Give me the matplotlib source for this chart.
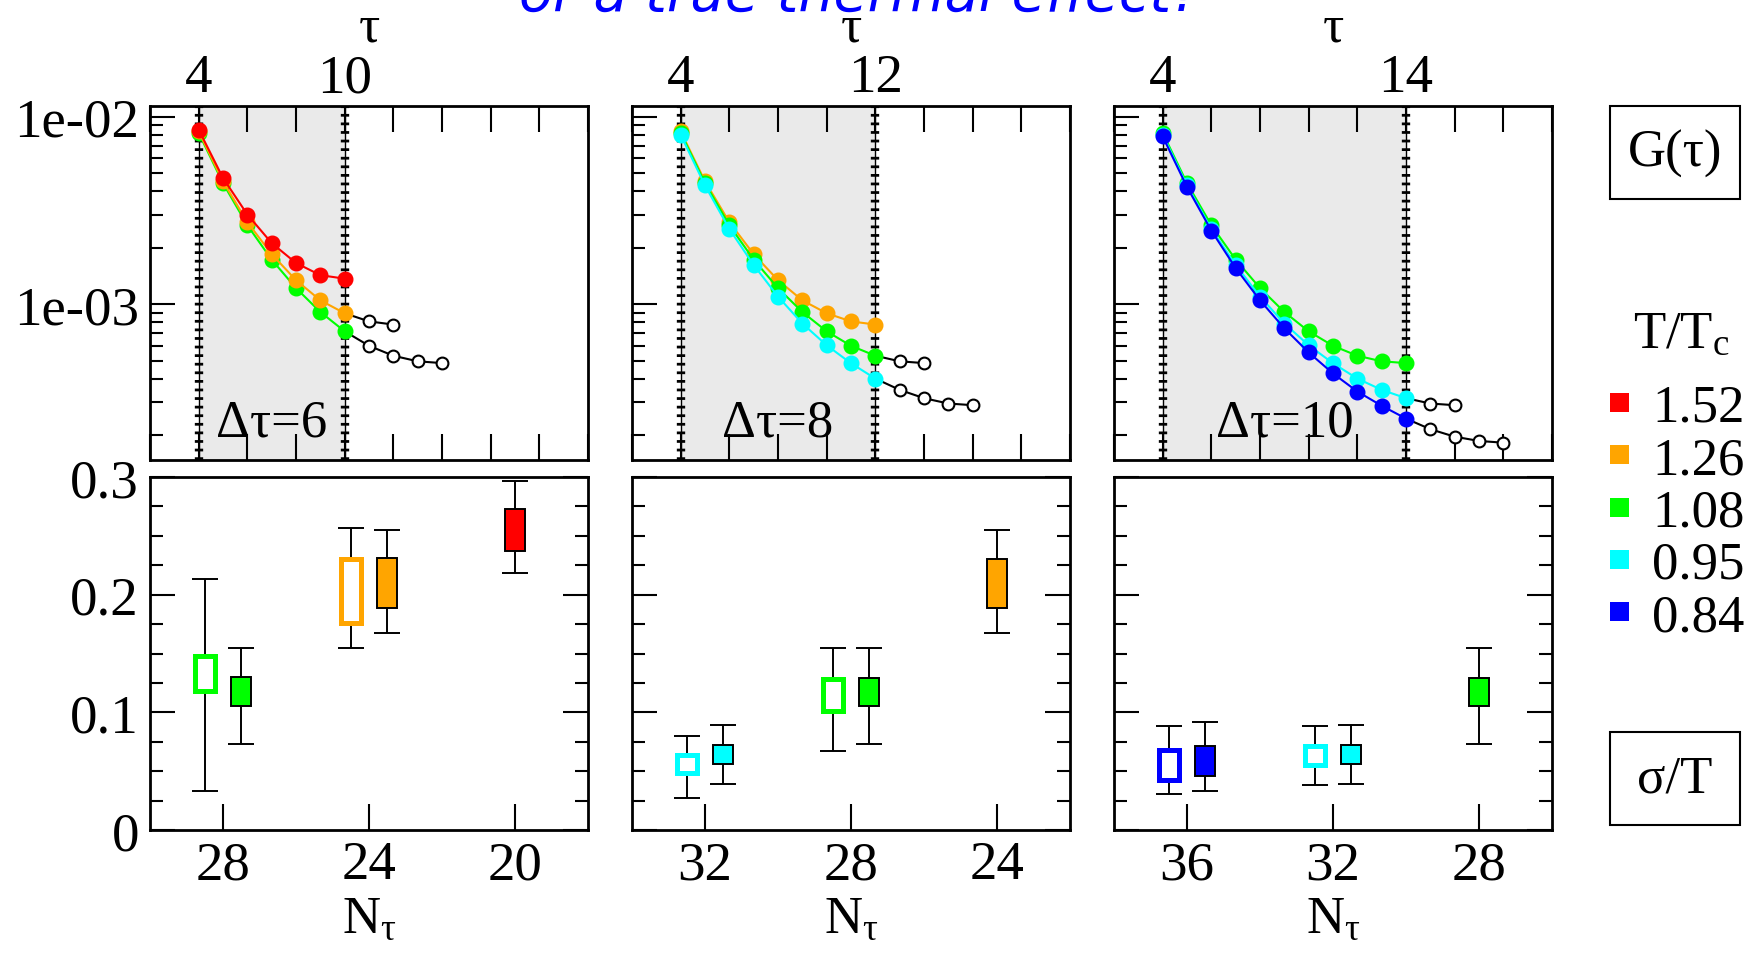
import numpy as np
import matplotlib
matplotlib.use('Agg')
import matplotlib.pyplot as plt
from matplotlib.patches import Rectangle
from matplotlib.ticker import FixedLocator, MultipleLocator, NullFormatter, LogLocator
import matplotlib.transforms as mtransforms

plt.rcParams['font.family'] = ['Liberation Serif', 'DejaVu Serif']
plt.rcParams['mathtext.fontset'] = 'custom'
plt.rcParams['mathtext.rm'] = 'Liberation Serif'
plt.rcParams['mathtext.it'] = 'Liberation Serif'

# ---------------- DATA ----------------
temps = ['1.52', '1.26', '1.08', '0.95', '0.84']
tau_start = 4

# G(tau) for tau = 4 ... N_tau/2
G_152 = [8.53e-3, 4.71e-3, 3.01e-3, 2.12e-3, 1.66e-3, 1.43e-3, 1.37e-3]
G_126 = [8.35e-3, 4.52e-3, 2.74e-3, 1.85e-3, 1.345e-3, 1.05e-3, 8.96e-4, 8.11e-4, 7.8e-4]
G_108 = [8.2e-3, 4.42e-3, 2.64e-3, 1.73e-3, 1.22e-3, 9.1e-4, 7.18e-4, 6.01e-4,
         5.32e-4, 4.97e-4, 4.86e-4]
G_095 = [8.01e-3, 4.30e-3, 2.52e-3, 1.62e-3, 1.10e-3, 7.9e-4, 6.05e-4, 4.85e-4,
         4.02e-4, 3.50e-4, 3.16e-4, 2.96e-4, 2.90e-4]
G_084 = [7.85e-3, 4.22e-3, 2.47e-3, 1.56e-3, 1.05e-3, 7.45e-4, 5.54e-4, 4.28e-4,
         3.43e-4, 2.88e-4, 2.46e-4, 2.16e-4, 1.97e-4, 1.87e-4, 1.83e-4]
correlators = {'1.52': G_152, '1.26': G_126, '1.08': G_108, '0.95': G_095, '0.84': G_084}

# top panels: temperatures shown and end of fit window
panel_temps = [['1.08', '1.26', '1.52'], ['1.26', '1.08', '0.95'], ['1.08', '0.95', '0.84']]
tau_end = [10, 12, 14]
dtau_labels = ['Δτ=6', 'Δτ=8', 'Δτ=10']

# bottom panels: sigma/T
nt_ticks = [[28, 24, 20], [32, 28, 24], [36, 32, 28]]

sig_nt = [[28, 28, 24, 24, 20],
          [32, 32, 28, 28, 24],
          [36, 36, 32, 32, 28]]
sig_T = [['1.08', '1.08', '1.26', '1.26', '1.52'],
         ['0.95', '0.95', '1.08', '1.08', '1.26'],
         ['0.84', '0.84', '0.95', '0.95', '1.08']]
sig_open = [[1, 0, 1, 0, 0],
            [1, 0, 1, 0, 0],
            [1, 0, 1, 0, 0]]
box_lo = [[0.118, 0.105, 0.176, 0.1886, 0.2375],
          [0.0486, 0.056, 0.1014, 0.105, 0.1886],
          [0.0423, 0.046, 0.0551, 0.056, 0.105]]
box_hi = [[0.148, 0.130, 0.230, 0.231, 0.2727],
          [0.0639, 0.0722, 0.1284, 0.1295, 0.2307],
          [0.0682, 0.071, 0.0716, 0.0722, 0.1295]]
err_lo = [[0.033, 0.073, 0.1545, 0.167, 0.218],
          [0.0276, 0.0395, 0.0673, 0.073, 0.167],
          [0.031, 0.0332, 0.0384, 0.0395, 0.073]]
err_hi = [[0.213, 0.1545, 0.257, 0.2548, 0.2963],
          [0.0801, 0.0892, 0.155, 0.1545, 0.2548],
          [0.088, 0.092, 0.088, 0.0892, 0.1545]]

# ---------------- STYLE ----------------
colors = {'1.52': '#ff0000', '1.26': '#ffa500', '1.08': '#00ff00',
          '0.95': '#00ffff', '0.84': '#0000ff'}
FS = 38
FS_TICK = 39.5
W, H = 1764, 954

fig = plt.figure(figsize=(W / 100, H / 100), dpi=100)


def frac(x0, y0, x1, y1):
    # pixel box (top-left origin) -> figure fraction rect
    return [x0 / W, 1 - y1 / H, (x1 - x0) / W, (y1 - y0) / H]


lefts = [150, 632, 1114]
pw = 438
axes_top = [fig.add_axes(frac(l, 107, l + pw, 461)) for l in lefts]
axes_bot = [fig.add_axes(frac(l, 478, l + pw, 831)) for l in lefts]

for ax in axes_top + axes_bot:
    for s in ax.spines.values():
        s.set_linewidth(2)

# ---- top panels: G(tau) ----
for i, ax in enumerate(axes_top):
    ax.set_yscale('log')
    ax.set_xlim(2, 20)
    ax.set_ylim(1.48e-4, 0.0114)
    ax.axvspan(tau_start, tau_end[i], color='#eaeaea', lw=0, zorder=0)
    for t in (tau_start, tau_end[i]):
        ax.axvline(t, color='k', lw=6, ls=(0, (0.33, 0.7)), zorder=1)
        ax.axvline(t, color='k', lw=1.0, zorder=1)
    z = 2
    for T in panel_temps[i]:
        G = np.array(correlators[T])
        tau = tau_start + np.arange(len(G))
        inside = tau <= tau_end[i]
        if (~inside).any():
            k = np.searchsorted(tau, tau_end[i])
            ax.plot(tau[k:], G[k:], '-', color='k', lw=1.5, zorder=z)
            ax.plot(tau[k + 1:], G[k + 1:], 'o', mfc='white', mec='k', ms=8.5, mew=1.5,
                    zorder=z + 1)
        ax.plot(tau[inside], G[inside], '-o', color=colors[T], lw=1.5, ms=10.5,
                zorder=z + 2)
        z += 3

    ticks = np.arange(2, 21, 2)
    ax.set_xticks(ticks)
    ax.set_xticklabels([str(t) if t in (tau_start, tau_end[i]) else '' for t in ticks],
                       fontsize=FS_TICK)
    ax.tick_params(axis='x', which='major', direction='in', length=18.5, width=1.5,
                   top=True, bottom=True, labeltop=True, labelbottom=False, pad=2)
    ax.yaxis.set_major_locator(FixedLocator([1e-3, 1e-2]))
    ax.yaxis.set_minor_locator(LogLocator(base=10, subs=np.arange(2, 10)))
    ax.yaxis.set_minor_formatter(NullFormatter())
    if i == 0:
        ax.set_yticklabels(['1e-03', '1e-02'], fontsize=FS_TICK)
    else:
        ax.yaxis.set_major_formatter(NullFormatter())
    ax.tick_params(axis='y', which='major', direction='in', length=18, width=1.5,
                   left=True, right=False, pad=8)
    ax.tick_params(axis='y', which='minor', direction='in', length=9.5, width=1.5,
                   left=True, right=False)
    trans = mtransforms.blended_transform_factory(ax.transData, ax.transAxes)
    ax.text((tau_start + tau_end[i]) / 2, 0.068, dtau_labels[i], transform=trans,
            ha='center', va='baseline', fontsize=FS, zorder=20)
    # top axis title tau
    cx = (lefts[i] + pw / 2) / W
    fig.text(cx, 1 - 42 / H, 'τ', ha='center', va='baseline', fontsize=FS)

# ---- bottom panels: sigma/T ----
bw = 0.55
for i, ax in enumerate(axes_bot):
    nts = nt_ticks[i]
    ax.set_xlim(max(nts) + 2, min(nts) - 2)
    ax.set_ylim(0, 0.3)
    nt = np.array(sig_nt[i], dtype=float)
    op = np.array(sig_open[i])
    counts = {v: list(nt).count(v) for v in nt}
    xpos = np.array([v + (0.5 if o else -0.5) if counts[v] > 1 else v
                     for v, o in zip(nt, op)])
    lo = np.array(box_lo[i]); hi = np.array(box_hi[i])
    elo = np.array(err_lo[i]); ehi = np.array(err_hi[i])
    mid = (lo + hi) / 2
    ax.errorbar(xpos, mid, yerr=[mid - elo, ehi - mid], fmt='none', ecolor='k',
                elinewidth=1.4, capsize=9.4, capthick=1.4, zorder=2)
    for x, l, h, T, o in zip(xpos, lo, hi, sig_T[i], op):
        if o:
            ax.bar(x, h - l, bottom=l, width=bw, facecolor='white',
                   edgecolor=colors[T], lw=3.6, zorder=3)
        else:
            ax.bar(x, h - l, bottom=l, width=bw, facecolor=colors[T],
                   edgecolor='k', lw=1.4, zorder=3)
    ax.set_xticks(nts)
    ax.set_xticklabels([str(v) for v in nts], fontsize=FS_TICK)
    ax.tick_params(axis='x', which='major', direction='in', length=18.5, width=1.5,
                   top=False, bottom=True, pad=7)
    ax.yaxis.set_major_locator(MultipleLocator(0.1))
    ax.yaxis.set_minor_locator(MultipleLocator(0.025))
    if i == 0:
        ax.set_yticks([0, 0.1, 0.2, 0.3])
        ax.set_yticklabels(['0', '0.1', '0.2', '0.3'], fontsize=FS_TICK)
    else:
        ax.yaxis.set_major_formatter(NullFormatter())
    ax.tick_params(axis='y', which='major', direction='in', length=18, width=1.5,
                   left=True, right=True, pad=8)
    ax.tick_params(axis='y', which='minor', direction='in', length=9.5, width=1.5,
                   left=True, right=True)
    cx = (lefts[i] + pw / 2) / W
    fig.text(cx, 1 - 933 / H, r'N$_\tau$', ha='center', va='baseline', fontsize=FS)

# ---- right-hand annotations ----
for (y0, y1), label in (((107, 200), 'G(τ)'), ((733, 826), 'σ/T')):
    fig.add_artist(Rectangle((1610 / W, 1 - y1 / H), 130 / W, (y1 - y0) / H,
                             transform=fig.transFigure, fill=False, lw=1.5,
                             edgecolor='k'))
    fig.text(1675 / W, 1 - (y0 + y1) / 2 / H, label, ha='center', va='center',
             fontsize=FS)

fig.text(1633 / W, 1 - 348 / H, r'T/T$_{\rm c}$', ha='left', va='baseline', fontsize=FS)
for k, T in enumerate(temps):
    yc = 403 + 52.3 * k
    fig.add_artist(Rectangle((1610 / W, 1 - (yc + 10) / H), 19 / W, 19 / H,
                             transform=fig.transFigure, facecolor=colors[T],
                             edgecolor='none'))
    fig.text(1652 / W, 1 - (yc + 19) / H, T, ha='left', va='baseline', fontsize=FS)

fig.text(860 / W, 1 - 11 / H, 'or a true thermal effect?', color='blue',
         style='italic', family='DejaVu Sans', fontsize=40, ha='center', va='baseline')

fig.savefig('out.png', dpi=100)
